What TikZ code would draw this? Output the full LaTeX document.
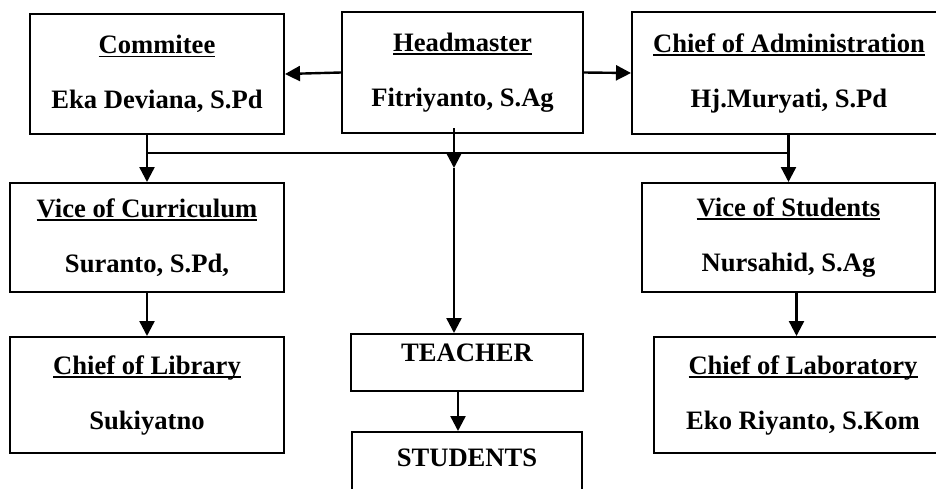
\documentclass[tikz,border=0pt]{standalone}
\usepackage{fontspec}
\setmainfont{Liberation Serif}
\usetikzlibrary{arrows.meta}
\newcommand{\undl}[1]{\setbox0\hbox{#1}\rlap{\rule[-1.8pt]{\wd0}{0.8pt}}\box0}

\begin{document}
\begin{tikzpicture}[x=0.5pt, y=-0.5pt,
  unit/.style={draw, line width=1pt, align=center, inner sep=0pt,
    font=\bfseries\fontsize{13.3}{27.5}\selectfont},
  oneline/.style={unit, text height=8.8pt, text depth=9.5pt},
  link/.style={line width=1.2pt, -{Triangle[length=7.5pt,width=7.5pt]}}]
\useasboundingbox (0,0) rectangle (936,488);
\node[unit, minimum width=127pt, minimum height=60pt] (comm) at (157,74) {\undl{Commitee}\\Eka Deviana, S.Pd};
\node[unit, minimum width=120.5pt, minimum height=60.5pt] (head) at (462.5,72.5) {\undl{Headmaster}\\Fitriyanto, S.Ag};
\node[unit, minimum width=157pt, minimum height=61pt] (admin) at (789,73) {\undl{Chief of Administration}\\Hj.Muryati, S.Pd};
\node[unit, minimum width=137pt, minimum height=54.5pt] (vcur) at (147,237.5) {\undl{Vice of Curriculum}\\Suranto, S.Pd,};
\node[unit, minimum width=146.5pt, minimum height=54.5pt] (vstu) at (788.5,237.5) {\undl{Vice of Students}\\Nursahid, S.Ag};
\node[unit, minimum width=137pt, minimum height=58pt] (lib) at (147,395) {\undl{Chief of Library}\\Sukiyatno};
\node[unit, minimum width=149pt, minimum height=58pt] (lab) at (803,395) {\undl{Chief of Laboratory}\\Eko Riyanto, S.Kom};
\node[oneline, minimum width=116pt, minimum height=28.5pt] (teach) at (467,362.5) {TEACHER};
\node[oneline, minimum width=115pt, minimum height=35.5pt] (stud) at (467,467.5) {STUDENTS};

% lines from the headmaster
\coordinate (busl) at (147,153);
\coordinate (busr) at (788.5,153);
\coordinate (hm) at (454,128);
\coordinate (hj) at (454,168);
\draw[link] (head.west) -- (comm.east);
\draw[link] (head.east) -- (admin.west);
\draw[line width=1.2pt] (busl) -- (busr);
\draw[link] (comm.south -| vcur.north) -- (vcur.north);
\draw[link] (admin.south -| vstu.north) -- (vstu.north);
\draw[link] (hm) -- (hj);
\draw[link] (hj) -- (hj |- teach.north);

% lower levels
\draw[link] (vcur.south) -- (lib.north);
\draw[link] ([xshift=4pt]vstu.south) -- ([xshift=4pt]vstu.south |- lab.north);
\draw[link] ([xshift=-4.5pt]teach.south) -- ([xshift=-4.5pt]teach.south |- stud.north);
\end{tikzpicture}
\end{document}
